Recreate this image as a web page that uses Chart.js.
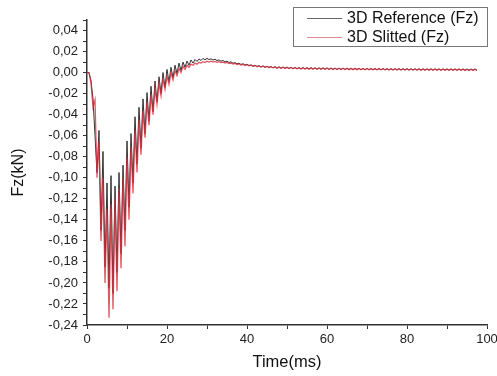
<!DOCTYPE html>
<html><head><meta charset="utf-8">
<script src="https://cdn.jsdelivr.net/npm/chart.js@4/dist/chart.umd.min.js"></script>
<style>html,body{margin:0;padding:0;background:#fff;}#wrap{width:497px;height:376px;}</style>
</head><body><div id="wrap"><canvas id="c" width="497" height="376"></canvas></div>
<script>
const seriesLabels = ['3D Reference (Fz)', '3D Slitted (Fz)'];
const timeStepMs = 0.5; // sampling step of both series (ms)
const refFz = [
 0.000, 0.000, -0.008, -0.025, -0.060, -0.095, -0.055, -0.150, -0.075, -0.185,
 -0.105, -0.205, -0.098, -0.210, -0.108, -0.190, -0.095, -0.172, -0.088, -0.150,
 -0.065, -0.128, -0.058, -0.105, -0.042, -0.087, -0.033, -0.072, -0.025, -0.058,
 -0.019, -0.046, -0.013, -0.037, -0.008, -0.028, -0.004, -0.020, 0.000, -0.014,
 0.003, -0.009, 0.005, -0.005, 0.007, -0.001, 0.009, 0.002, 0.010, 0.005,
 0.011, 0.007, 0.012, 0.009, 0.0125, 0.0105, 0.013, 0.0115, 0.0135, 0.0122,
 0.0135, 0.0124, 0.0131, 0.0119, 0.0127, 0.0114, 0.0121, 0.0108, 0.0115, 0.0101,
 0.0109, 0.0095, 0.0102, 0.0089, 0.0095, 0.0083, 0.0089, 0.0077, 0.0084, 0.0072,
 0.0079, 0.0067, 0.0074, 0.0062, 0.0070, 0.0058, 0.0066, 0.0054, 0.0063, 0.0051,
 0.0060, 0.0048, 0.0058, 0.0045, 0.0056, 0.0043, 0.0054, 0.0041, 0.0053, 0.0040,
 0.0052, 0.0038, 0.0050, 0.0037, 0.0049, 0.0036, 0.0048, 0.0035, 0.0047, 0.0034,
 0.0046, 0.0034, 0.0046, 0.0033, 0.0045, 0.0032, 0.0044, 0.0032, 0.0044, 0.0031,
 0.0043, 0.0031, 0.0043, 0.0030, 0.0042, 0.0030, 0.0042, 0.0029, 0.0041, 0.0029,
 0.0041, 0.0029, 0.0040, 0.0028, 0.0040, 0.0028, 0.0040, 0.0028, 0.0039, 0.0027,
 0.0039, 0.0027, 0.0039, 0.0027, 0.0038, 0.0026, 0.0038, 0.0026, 0.0038, 0.0026,
 0.0037, 0.0026, 0.0037, 0.0025, 0.0037, 0.0025, 0.0037, 0.0025, 0.0036, 0.0025,
 0.0036, 0.0024, 0.0036, 0.0024, 0.0036, 0.0024, 0.0035, 0.0024, 0.0035, 0.0024,
 0.0035, 0.0023, 0.0035, 0.0023, 0.0035, 0.0023, 0.0034, 0.0023, 0.0034, 0.0023,
 0.0034, 0.0023, 0.0034, 0.0022, 0.0034, 0.0022, 0.0034, 0.0022, 0.0033, 0.0022,
 0.0033, 0.0022, 0.0033, 0.0022, 0.0033, 0.0021
];
const slitFz = [
 0.000, 0.000, -0.010, -0.033, -0.026, -0.100, -0.065, -0.160, -0.100, -0.200,
 -0.130, -0.233, -0.125, -0.225, -0.120, -0.208, -0.110, -0.186, -0.100, -0.165,
 -0.080, -0.140, -0.070, -0.115, -0.055, -0.095, -0.045, -0.078, -0.036, -0.062,
 -0.028, -0.050, -0.021, -0.040, -0.015, -0.030, -0.010, -0.022, -0.006, -0.016,
 -0.003, -0.011, 0.000, -0.007, 0.002, -0.003, 0.004, 0.000, 0.006, 0.003,
 0.007, 0.005, 0.008, 0.007, 0.009, 0.0080, 0.0098, 0.0090, 0.0104, 0.0096,
 0.0108, 0.0100, 0.0109, 0.0100, 0.0107, 0.0098, 0.0104, 0.0095, 0.0100, 0.0091,
 0.0096, 0.0086, 0.0091, 0.0081, 0.0087, 0.0077, 0.0083, 0.0072, 0.0079, 0.0068,
 0.0075, 0.0064, 0.0071, 0.0060, 0.0067, 0.0056, 0.0064, 0.0053, 0.0061, 0.0050,
 0.0058, 0.0047, 0.0056, 0.0045, 0.0054, 0.0042, 0.0052, 0.0041, 0.0051, 0.0039,
 0.0050, 0.0038, 0.0049, 0.0037, 0.0048, 0.0036, 0.0047, 0.0035, 0.0046, 0.0034,
 0.0045, 0.0033, 0.0045, 0.0033, 0.0044, 0.0032, 0.0044, 0.0031, 0.0043, 0.0031,
 0.0043, 0.0030, 0.0042, 0.0030, 0.0042, 0.0029, 0.0041, 0.0029, 0.0041, 0.0029,
 0.0040, 0.0028, 0.0040, 0.0028, 0.0040, 0.0028, 0.0039, 0.0027, 0.0039, 0.0027,
 0.0039, 0.0027, 0.0038, 0.0026, 0.0038, 0.0026, 0.0038, 0.0026, 0.0037, 0.0026,
 0.0037, 0.0025, 0.0037, 0.0025, 0.0036, 0.0025, 0.0036, 0.0025, 0.0036, 0.0024,
 0.0036, 0.0024, 0.0035, 0.0024, 0.0035, 0.0024, 0.0035, 0.0023, 0.0035, 0.0023,
 0.0034, 0.0023, 0.0034, 0.0023, 0.0034, 0.0023, 0.0034, 0.0022, 0.0034, 0.0022,
 0.0033, 0.0022, 0.0033, 0.0022, 0.0033, 0.0022, 0.0033, 0.0022, 0.0033, 0.0021,
 0.0032, 0.0021, 0.0032, 0.0021, 0.0032, 0.0021
];
const xTickValues = [0, 10, 20, 30, 40, 50, 60, 70, 80, 90, 100];
const xLabelledTicks = [0, 20, 40, 60, 80, 100];
const yTickValues = [-0.24, -0.23, -0.22, -0.21, -0.20, -0.19, -0.18, -0.17, -0.16, -0.15, -0.14, -0.13, -0.12, -0.11, -0.10, -0.09, -0.08, -0.07, -0.06, -0.05, -0.04, -0.03, -0.02, -0.01, 0.00, 0.01, 0.02, 0.03, 0.04, 0.05];
const yLabelledTicks = [-0.24, -0.22, -0.20, -0.18, -0.16, -0.14, -0.12, -0.10, -0.08, -0.06, -0.04, -0.02, 0.00, 0.02, 0.04];

const FONT = '"Liberation Sans", Arial, sans-serif';
const toPoints = arr => arr.map((v, i) => ({x: i * timeStepMs, y: v}));

const legendPlugin = {
  id: 'boxLegend',
  afterDraw(chart) {
    const ctx = chart.ctx;
    ctx.save();
    ctx.fillStyle = '#fff';
    ctx.fillRect(293.5, 7.5, 194, 39);
    ctx.strokeStyle = '#777';
    ctx.lineWidth = 1;
    ctx.strokeRect(293.5, 7.5, 194, 39);
    chart.data.datasets.forEach((ds, i) => {
      const y = 18 + i * 19;
      ctx.strokeStyle = ds.legendColor;
      ctx.lineWidth = 1;
      ctx.beginPath(); ctx.moveTo(307, y + 0.5); ctx.lineTo(342, y + 0.5); ctx.stroke();
      ctx.fillStyle = '#111';
      ctx.font = '16px ' + FONT;
      ctx.textBaseline = 'middle';
      ctx.textAlign = 'left';
      ctx.fillText(ds.label, 347, y + 1);
    });
    ctx.restore();
  }
};

new Chart(document.getElementById('c'), {
  type: 'line',
  data: {
    datasets: [
      {label: seriesLabels[0], data: toPoints(refFz), borderColor: 'rgba(40,40,40,0.95)', legendColor: '#666', borderWidth: 1, pointRadius: 0, tension: 0, order: 2},
      {label: seriesLabels[1], data: toPoints(slitFz), borderColor: 'rgba(215,45,60,0.8)', legendColor: '#e08890', borderWidth: 1.3, pointRadius: 0, tension: 0, order: 1}
    ]
  },
  options: {
    responsive: false,
    animation: false,
    devicePixelRatio: 1,
    layout: {padding: {top: 20, right: 10, left: 0, bottom: 0}},
    plugins: {legend: {display: false}, tooltip: {enabled: false}},
    scales: {
      x: {
        type: 'linear', min: 0, max: 100,
        afterBuildTicks: s => { s.ticks = xTickValues.map(v => ({value: v})); },
        afterFit: s => { s.height = 51; s.paddingLeft = 0; s.paddingRight = 0; },
        ticks: {
          autoSkip: false, maxRotation: 0, padding: 3, color: '#222',
          font: {family: FONT, size: 13},
          callback: v => xLabelledTicks.includes(v) ? String(v) : ''
        },
        grid: {drawOnChartArea: false, drawTicks: true, tickLength: 4, tickColor: '#333', tickWidth: 1},
        border: {display: true, color: '#333', width: 1.5},
        title: {display: true, text: 'Time(ms)', color: '#111', font: {family: FONT, size: 16.5}, padding: {top: 0, bottom: 4}}
      },
      y: {
        type: 'linear', min: -0.24, max: 0.05,
        afterBuildTicks: s => { s.ticks = yTickValues.map(v => ({value: v})); },
        afterFit: s => { s.width = 87; s.paddingTop = 0; s.paddingBottom = 0; },
        ticks: {
          autoSkip: false, padding: 5, color: '#222',
          font: {family: FONT, size: 13},
          callback: v => {
            const r = Math.round(v * 100) / 100;
            return yLabelledTicks.some(t => Math.abs(t - r) < 1e-9) ? (r === 0 ? 0 : r).toFixed(2).replace('.', ',') : '';
          }
        },
        grid: {drawOnChartArea: false, drawTicks: true, tickLength: 4, tickColor: '#333', tickWidth: 1},
        border: {display: true, color: '#333', width: 1.5},
        title: {display: true, text: 'Fz(kN)', color: '#111', font: {family: FONT, size: 16}, padding: {top: 9, bottom: 0}}
      }
    }
  },
  plugins: [legendPlugin]
});
</script></body></html>
